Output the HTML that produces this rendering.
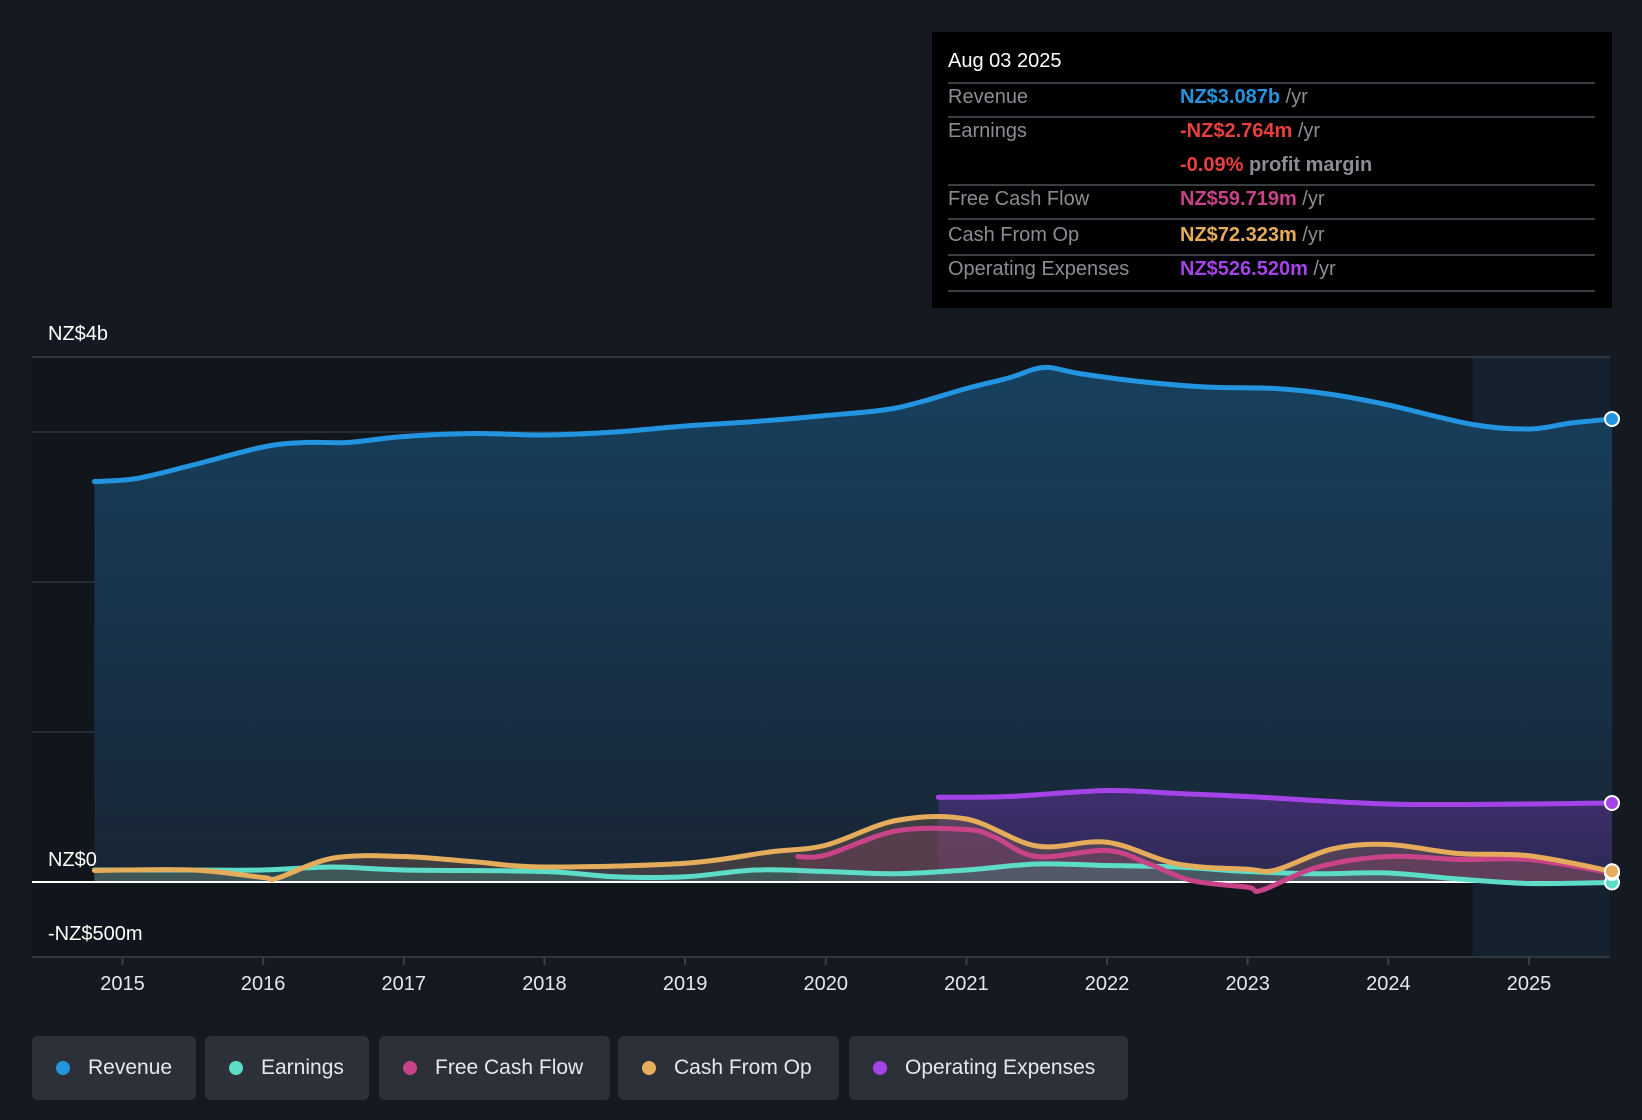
<!DOCTYPE html>
<html><head><meta charset="utf-8"><style>
body{margin:0;background:#151a22;width:1642px;height:1120px;overflow:hidden;font-family:"Liberation Sans",sans-serif}
svg{position:absolute;left:0;top:0}
.tt{position:absolute;left:932px;top:32px;width:680px;height:276px;background:#000}
.tt div{position:absolute;font-size:20px;color:#8a8d93;white-space:nowrap}
.tt .sep{height:2px;background:#3a3d42;left:16px;width:647px}
.leg{position:absolute;top:1036px;height:64px;background:#2c3039;border-radius:6px;color:#e8e8ea;font-size:21px;line-height:64px}
.leg span{display:inline-block;width:14px;height:14px;border-radius:7px;margin:0 18px 0 24px;vertical-align:-1px}
</style></head><body>
<svg id="chart" width="1642" height="1120"></svg>
<div class="tt">
<div style="left:16px;top:18px;color:#fff">Aug 03 2025</div>
<div class="sep" style="top:50px"></div>
<div style="left:16px;top:54px">Revenue</div><div style="left:248px;top:54px"><b style="color:#2394df">NZ$3.087b</b> /yr</div>
<div class="sep" style="top:84px"></div>
<div style="left:16px;top:88px">Earnings</div><div style="left:248px;top:88px"><b style="color:#e8403f">-NZ$2.764m</b> /yr</div>
<div style="left:248px;top:122px"><b style="color:#e8403f">-0.09%</b> <b>profit margin</b></div>
<div class="sep" style="top:152px"></div>
<div style="left:16px;top:156px">Free Cash Flow</div><div style="left:248px;top:156px"><b style="color:#c84387">NZ$59.719m</b> /yr</div>
<div class="sep" style="top:186px"></div>
<div style="left:16px;top:192px">Cash From Op</div><div style="left:248px;top:192px"><b style="color:#e5ad5b">NZ$72.323m</b> /yr</div>
<div class="sep" style="top:222px"></div>
<div style="left:16px;top:226px">Operating Expenses</div><div style="left:248px;top:226px"><b style="color:#a444e8">NZ$526.520m</b> /yr</div>
<div class="sep" style="top:258px"></div>
</div>
<div class="leg" style="left:32px;width:164px"><span style="background:#2394df"></span>Revenue</div>
<div class="leg" style="left:205px;width:164px"><span style="background:#5ddcc8"></span>Earnings</div>
<div class="leg" style="left:379px;width:231px"><span style="background:#c84387"></span>Free Cash Flow</div>
<div class="leg" style="left:618px;width:221px"><span style="background:#e5ad5b"></span>Cash From Op</div>
<div class="leg" style="left:849px;width:279px"><span style="background:#a444e8"></span>Operating Expenses</div>
<script>
const years=[2015,2016,2017,2018,2019,2020,2021,2022,2023,2024,2025];
const revT=[2014.8,2015.1,2015.5,2016.0,2016.3,2016.6,2017.0,2017.5,2018.0,2018.5,2019.0,2019.5,2020.0,2020.5,2021.0,2021.3,2021.55,2021.8,2022.2,2022.7,2023.2,2023.6,2024.0,2024.6,2025.0,2025.3,2025.59];
const revV=[2.67,2.69,2.78,2.90,2.93,2.93,2.97,2.99,2.98,3.00,3.04,3.07,3.11,3.16,3.29,3.36,3.43,3.39,3.34,3.30,3.29,3.25,3.18,3.05,3.02,3.06,3.087];
const earnT=[2014.8,2015.5,2016.0,2016.5,2017.0,2018.0,2018.5,2019.0,2019.5,2020.0,2020.5,2021.0,2021.5,2022.0,2022.5,2023.0,2023.5,2024.0,2024.5,2025.0,2025.59];
const earnV=[0.08,0.08,0.08,0.10,0.08,0.07,0.035,0.035,0.08,0.07,0.055,0.08,0.12,0.11,0.10,0.07,0.055,0.06,0.02,-0.01,-0.003];
const fcfT=[2019.8,2020.0,2020.5,2021.0,2021.2,2021.5,2022.0,2022.3,2022.6,2023.0,2023.1,2023.5,2024.0,2024.5,2025.0,2025.59];
const fcfV=[0.17,0.18,0.34,0.35,0.30,0.17,0.21,0.12,0.01,-0.035,-0.055,0.10,0.17,0.15,0.15,0.06];
const cfoT=[2014.8,2015.5,2016.0,2016.1,2016.5,2017.0,2017.5,2018.0,2019.0,2019.6,2020.0,2020.5,2021.0,2021.5,2022.0,2022.5,2023.0,2023.2,2023.6,2024.0,2024.5,2025.0,2025.59];
const cfoV=[0.077,0.08,0.03,0.025,0.16,0.17,0.135,0.10,0.125,0.2,0.245,0.41,0.42,0.24,0.265,0.12,0.085,0.08,0.22,0.25,0.19,0.175,0.072];
const opxT=[2020.8,2021.3,2022.0,2022.5,2023.0,2024.0,2025.0,2025.59];
const opxV=[0.565,0.57,0.61,0.59,0.57,0.52,0.52,0.527];
const L=32,R=1610,T=357,B=957;
const x=t=>122.5+(t-2015)*140.65;
const y=v=>882-v*150;
const svg=document.getElementById('chart');const NS='http://www.w3.org/2000/svg';
function mk(tag,attrs,parent){const e=document.createElementNS(NS,tag);for(const k in attrs)e.setAttribute(k,attrs[k]);(parent||svg).appendChild(e);return e;}
function path(ts,vs){const p=ts.map((t,i)=>[x(t),y(vs[i])]);let d='M'+p[0][0]+','+p[0][1];for(let i=0;i<p.length-1;i++){const a=p[i-1]||p[i],b=p[i],c=p[i+1],e=p[i+2]||c;d+=` C${b[0]+(c[0]-a[0])/6},${b[1]+(c[1]-a[1])/6} ${c[0]-(e[0]-b[0])/6},${c[1]-(e[1]-b[1])/6} ${c[0]},${c[1]}`;}return d;}
const defs=mk('defs',{});
defs.innerHTML='<linearGradient id="gr" x1="0" y1="0" x2="0" y2="1"><stop offset="0" stop-color="#17405e"/><stop offset="1" stop-color="#182535"/></linearGradient><linearGradient id="gp" x1="0" y1="0" x2="0" y2="1"><stop offset="0" stop-color="#4a2f7a" stop-opacity=".8"/><stop offset="1" stop-color="#4a2f7a" stop-opacity=".4"/></linearGradient>';
mk('rect',{x:L,y:T,width:R-L,height:B-T,fill:'#11151c'});
let g=mk('rect',{x:x(2024.6),y:T,width:R-x(2024.6),height:B-T,fill:'#15212e'});
[1,2,3].forEach(v=>{const l=mk('line',{x1:L,x2:R,y1:y(v),y2:y(v),stroke:'#2c3440','stroke-width':1.5});});
mk('line',{x1:L,x2:R,y1:T,y2:T,stroke:'#3a404a','stroke-width':1.5});
mk('line',{x1:L,x2:R,y1:B,y2:B,stroke:'#3a404a','stroke-width':1.5});
function area(ts,vs,fill,op){const d=path(ts,vs)+` L${x(ts[ts.length-1])},${y(0)} L${x(ts[0])},${y(0)} Z`;return mk('path',{d,fill,opacity:op});}
let a=area(revT,revV,'url(#gr)',1);
a=area(opxT,opxV,'url(#gp)',1);
a=area(cfoT,cfoV,'#8a6a55',0.35);
a=area(fcfT,fcfV,'#8a4066',0.3);
a=area(earnT,earnV,'#3c8a80',0.35);
mk('line',{x1:L,x2:R,y1:y(0),y2:y(0),stroke:'#fff','stroke-width':2});
const series=[[revT,revV,'#2394df','revenue-line'],[opxT,opxV,'#a444e8','opex-line'],[earnT,earnV,'#5ddcc8','earnings-line'],[fcfT,fcfV,'#c84387','fcf-line'],[cfoT,cfoV,'#e5ad5b','cfo-line']];
series.forEach(s=>{const p=mk('path',{d:path(s[0],s[1]),fill:'none',stroke:s[2],'stroke-width':5,'stroke-linecap':'round'});
const n=s[0].length-1;const c=mk('circle',{cx:x(s[0][n]),cy:y(s[1][n]),r:7,fill:s[2],stroke:'#fff','stroke-width':2});});
years.forEach(yr=>{const t=mk('line',{x1:x(yr),x2:x(yr),y1:B,y2:B+8,stroke:'#3a404a','stroke-width':2});
const tx=mk('text',{x:x(yr),y:990,fill:'#e8e8ea','font-size':20,'text-anchor':'middle','font-family':'Liberation Sans'});tx.textContent=yr;});
[['NZ$4b',340],['NZ$0',866],['-NZ$500m',940]].forEach(l=>{const tx=mk('text',{x:48,y:l[1],fill:'#fff','font-size':20,'font-family':'Liberation Sans'});tx.textContent=l[0];});
</script>
</body></html>
